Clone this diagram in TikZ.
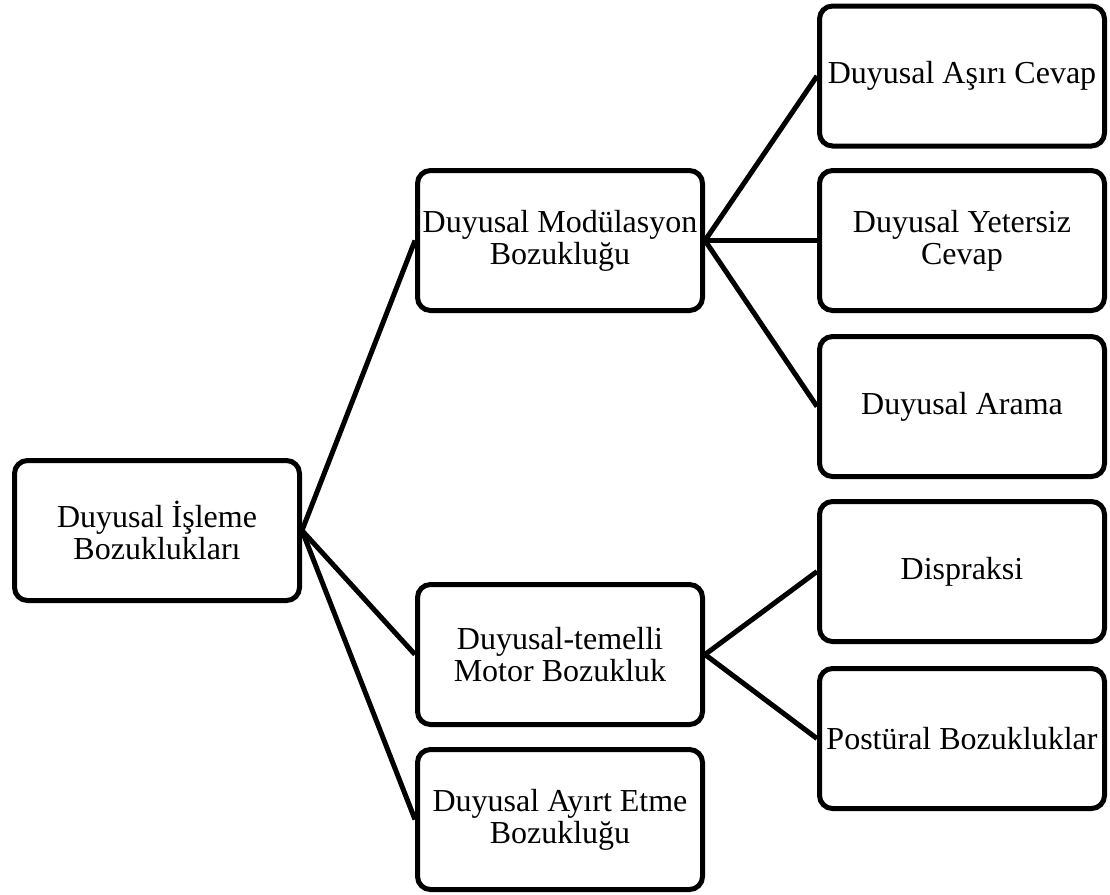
\documentclass[tikz,border=0pt]{standalone}
\usepackage{fontspec}
\setmainfont{Liberation Serif}
\begin{document}
\begin{tikzpicture}[x=1pt,y=-1pt,
  box/.style={draw=black, line width=5pt, rounded corners=13pt, fill=white,
    minimum width=285pt, minimum height=140pt, inner sep=2pt, align=center,
    font=\fontsize{32}{32}\selectfont},
  link/.style={draw=black, line width=5pt}]
  \useasboundingbox (0,0) rectangle (1110,894);

  % root
  \node[box] (root) at (157,530.5) {Duyusal İşleme\\Bozuklukları};

  % second level
  \node[box] (mod) at (560,240.5) {Duyusal Modülasyon\\Bozukluğu};
  \node[box] (mot) at (560,654.5) {Duyusal-temelli\\Motor Bozukluk};
  \node[box] (ayr) at (560,819.5) {Duyusal Ayırt Etme\\Bozukluğu};

  % third level
  \node[box] (asiri) at (962,76) {Duyusal Aşırı Cevap};
  \node[box] (yet) at (962,240.5) {Duyusal Yetersiz\\Cevap};
  \node[box] (ara) at (962,406.5) {Duyusal Arama};
  \node[box] (dis) at (962,571.5) {Dispraksi};
  \node[box] (pos) at (962,738.5) {Postüral Bozukluklar};

  % connectors
  \draw[link] (root.east) -- (mod.west);
  \draw[link] (root.east) -- (mot.west);
  \draw[link] (root.east) -- (ayr.west);
  \draw[link] (mod.east) -- (asiri.west);
  \draw[link] (mod.east) -- (yet.west);
  \draw[link] (mod.east) -- (ara.west);
  \draw[link] (mot.east) -- (dis.west);
  \draw[link] (mot.east) -- (pos.west);
\end{tikzpicture}
\end{document}
